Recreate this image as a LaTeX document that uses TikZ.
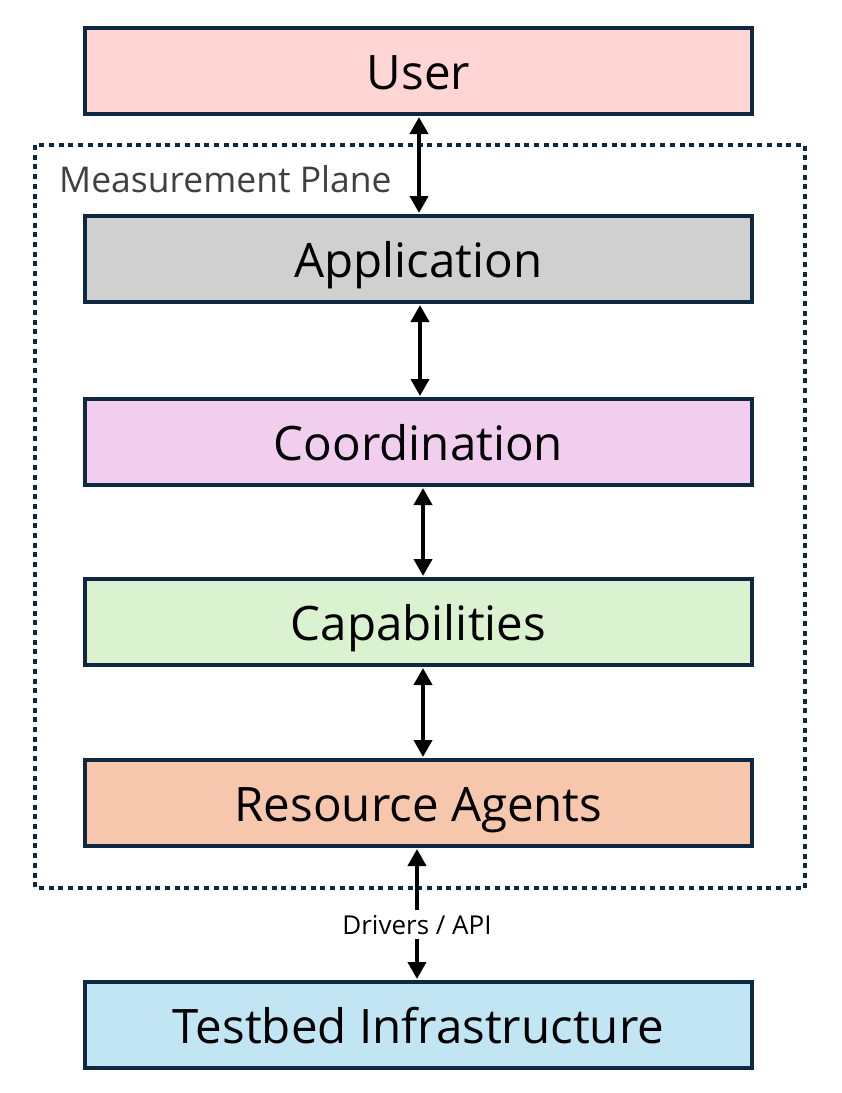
\documentclass[tikz,border=0pt]{standalone}
\usepackage{fontspec}
\setmainfont{Open Sans}
\usetikzlibrary{arrows.meta}
\definecolor{bordercol}{HTML}{0E2841}
\definecolor{userfill}{HTML}{FFD5D5}
\definecolor{appfill}{HTML}{D0D0D0}
\definecolor{coordfill}{HTML}{F1CDEE}
\definecolor{capfill}{HTML}{DAF2D0}
\definecolor{resfill}{HTML}{F6C6AD}
\definecolor{testfill}{HTML}{C2E5F4}
\definecolor{planetext}{HTML}{404040}
\tikzset{
  layer/.style={draw=bordercol, line width=4pt, minimum width=667pt, minimum height=86pt,
    inner sep=0pt, text height=36pt, text depth=0pt, font=\fontsize{47.5}{52}\selectfont, text=black},
  biarrow/.style={line width=4pt, draw=black, {Triangle[width=18pt,length=17pt]}-{Triangle[width=18pt,length=17pt]}, shorten <=1pt, shorten >=1pt},
}
\begin{document}
\begin{tikzpicture}[x=1pt,y=-1pt]
\useasboundingbox (0,0) rectangle (842,1093);
\draw[bordercol, line width=3.5pt, dash pattern=on 5pt off 4.7pt] (35,145) rectangle (805,888);
\node[layer, fill=userfill] (user) at (418.5,71) {User};
\node[layer, fill=appfill] (app) at (418.5,259) {Application};
\node[layer, fill=coordfill] (coord) at (418.5,442) {Coordination};
\node[layer, fill=capfill] (cap) at (418.5,622) {Capabilities};
\node[layer, fill=resfill] (res) at (418.5,803) {Resource Agents};
\node[layer, fill=testfill] (test) at (418.5,1025) {Testbed Infrastructure};
\node[anchor=base west, text=planetext, font=\fontsize{35.5}{40}\selectfont, inner sep=0pt] (plane) at (59,192) {Measurement Plane};
\draw[biarrow] ([xshift=0.5pt]user.south) -- ([xshift=0.5pt]app.north);
\draw[biarrow] ([xshift=1.5pt]app.south) -- ([xshift=1.5pt]coord.north);
\draw[biarrow] ([xshift=4.5pt]coord.south) -- ([xshift=4.5pt]cap.north);
\draw[biarrow] ([xshift=4.5pt]cap.south) -- ([xshift=4.5pt]res.north);
\draw[biarrow] ([xshift=-1.5pt]res.south) -- node[pos=0.58, fill=white, inner xsep=3pt, inner ysep=4.5pt, text height=20pt, text depth=0pt, font=\fontsize{26}{30}\selectfont] (drv) {Drivers / API} ([xshift=-1.5pt]test.north);
\end{tikzpicture}
\end{document}
